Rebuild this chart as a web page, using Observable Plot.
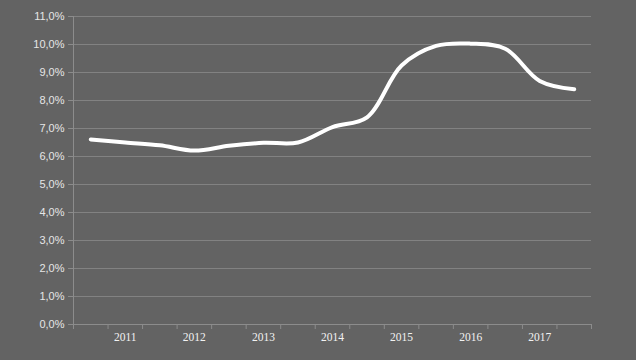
<!DOCTYPE html>
<html><head><meta charset="utf-8">
<script src="https://cdn.jsdelivr.net/npm/d3@7"></script>
<script src="https://cdn.jsdelivr.net/npm/@observablehq/plot@0.6"></script>
<style>
html,body{margin:0;padding:0;background:#636363;}
</style>
</head><body><div id="chart"></div>
<script>
// 15 half-year periods; labels on every second one
const periods = ["2010 H2","2011 H1","2011 H2","2012 H1","2012 H2","2013 H1","2013 H2","2014 H1","2014 H2","2015 H1","2015 H2","2016 H1","2016 H2","2017 H1","2017 H2"];
const values = [6.61, 6.50, 6.40, 6.21, 6.38, 6.49, 6.50, 7.05, 7.40, 9.25, 9.95, 10.03, 9.85, 8.70, 8.40];
const yearLabels = ["2011","2012","2013","2014","2015","2016","2017"];
const yearPeriodIndex = [1, 3, 5, 7, 9, 11, 13];
const yTicks = [0,1,2,3,4,5,6,7,8,9,10,11];

const data = periods.map((p, i) => ({period: p, pos: i + 0.5, value: values[i]}));
const labelPos = yearPeriodIndex.map(i => i + 0.5);
const labelMap = new Map(labelPos.map((p, k) => [p, yearLabels[k]]));
const fmt = d => d.toFixed(1).replace(".", ",") + "%";

const chart = Plot.plot({
  width: 636,
  height: 360,
  marginLeft: 73,
  marginRight: 45,
  marginTop: 16,
  marginBottom: 36,
  style: {background: "#636363", overflow: "visible"},
  x: {domain: [0, periods.length], axis: null},
  y: {domain: [0, 11], axis: null},
  marks: [
    Plot.ruleY(yTicks.slice(1), {stroke: "#828282", strokeWidth: 1}),
    Plot.ruleX([0], {stroke: "#8c8c8c", strokeWidth: 1}),
    Plot.ruleY([0], {stroke: "#8c8c8c", strokeWidth: 1}),
    Plot.axisY({ticks: yTicks, tickSize: 5, tickPadding: 4, tickFormat: fmt, stroke: "#8c8c8c", fill: "#e6e6e6", fontSize: 11, fontFamily: "Liberation Sans, Arial, sans-serif", label: null}),
    Plot.axisX({ticks: d3.range(periods.length + 1), tickSize: 5, tickFormat: () => "", stroke: "#8c8c8c", label: null}),
    Plot.axisX({ticks: labelPos, tickSize: 0, tickPadding: 8, tickFormat: d => labelMap.get(d), fill: "#f2f2f2", fontSize: 11.5, fontFamily: "Liberation Serif, Times New Roman, serif", label: null}),
    Plot.line(data, {x: "pos", y: "value", curve: "catmull-rom", stroke: "#ffffff", strokeWidth: 4})
  ]
});
document.getElementById("chart").appendChild(chart);
</script>
</body></html>
